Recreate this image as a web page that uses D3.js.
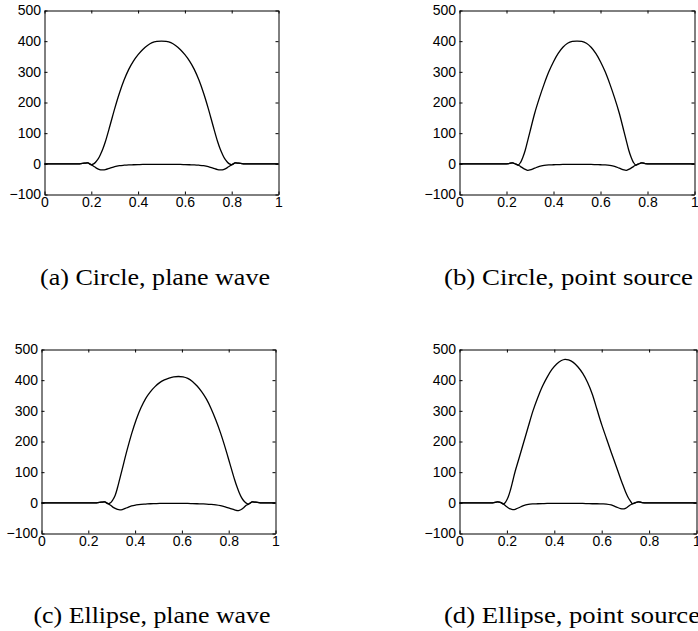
<!DOCTYPE html>
<html>
<head>
<meta charset="utf-8">
<script src="https://cdn.jsdelivr.net/npm/d3@7"></script>
<style>
  body { margin: 0; background: #fff; }
  svg { display: block; }
  .tick text { font-family: "Liberation Sans", Arial, sans-serif; font-size: 14px; fill: #000; }
  .axis path, .axis line { stroke: #000; stroke-width: 1; }
  .caption { font-family: "Liberation Serif", "Times New Roman", serif; font-size: 23px; fill: #000; }
</style>
</head>
<body>
<svg id="chart" width="698" height="631"></svg>
<script>
// ticks shared by all four plots
const xTicks = [0, 0.2, 0.4, 0.6, 0.8, 1];
const yTicks = [-100, 0, 100, 200, 300, 400, 500];

const captions = [
    "(a) Circle, plane wave",
    "(b) Circle, point source",
    "(c) Ellipse, plane wave",
    "(d) Ellipse, point source"
];

// (a) circle, plane wave
const xA = [0, 0.10, 0.15, 0.17, 0.185, 0.20, 0.21, 0.22, 0.23, 0.24, 0.25, 0.26, 0.28, 0.30, 0.32, 0.34, 0.36, 0.38, 0.40, 0.42, 0.44, 0.46, 0.48, 0.50,
            0.52, 0.54, 0.56, 0.58, 0.60, 0.62, 0.64, 0.66, 0.68, 0.70, 0.72, 0.74, 0.75, 0.76, 0.77, 0.78, 0.79, 0.80, 0.815, 0.83, 0.85, 0.90, 1];
const bigA = [0, 0, 0, 2, 3, -3, 0, 7, 17, 32, 50, 72, 125, 180, 230, 273, 308, 335, 356, 373, 386, 395, 399, 400,
              399, 395, 386, 373, 356, 335, 308, 273, 230, 180, 125, 72, 50, 32, 17, 7, 0, -3, 3, 2, 0, 0, 0];
const smallA = [0, 0, 0, 2, 3, -3, -8, -13, -17, -19.5, -20, -19, -14, -9, -6, -4.5, -3.5, -3, -2.5, -2, -2, -1.5, -1.5, -1.5,
                -1.5, -1.5, -2, -2, -2.5, -3, -3.5, -4.5, -6, -9, -14, -19, -20, -19.5, -17, -13, -8, -3, 3, 2, 0, 0, 0];

// (b) circle, point source
const xB = [0, 0.10, 0.18, 0.21, 0.225, 0.24, 0.25, 0.26, 0.27, 0.28, 0.29, 0.30, 0.32, 0.34, 0.36, 0.38, 0.40, 0.42, 0.44, 0.46, 0.48, 0.50,
            0.52, 0.54, 0.56, 0.58, 0.60, 0.62, 0.64, 0.66, 0.68, 0.70, 0.71, 0.72, 0.73, 0.74, 0.75, 0.76, 0.775, 0.79, 0.82, 0.90, 1];
const bigB = [0, 0, 0, 1, 3, -1, -4, 5, 22, 45, 75, 105, 165, 215, 260, 300, 333, 360, 380, 393, 399, 400,
              399, 393, 380, 360, 333, 300, 260, 215, 165, 105, 75, 45, 22, 5, -4, -1, 3, 1, 0, 0, 0];
const smallB = [0, 0, 0, 1, 3, -1, -4, -9, -14, -18, -21, -20, -14, -8, -5, -3.5, -3, -2.5, -2, -2, -1.5, -1.5,
                -1.5, -2, -2, -2.5, -3, -3.5, -5, -8, -14, -20, -21, -18, -14, -9, -4, -1, 3, 1, 0, 0, 0];

// (c) ellipse, plane wave
const xC = [0, 0.15, 0.235, 0.255, 0.27, 0.285, 0.295, 0.305, 0.315, 0.325, 0.335, 0.345, 0.365, 0.385, 0.405, 0.425, 0.445, 0.465, 0.485, 0.505, 0.525, 0.545, 0.565, 0.585,
            0.605, 0.625, 0.645, 0.665, 0.685, 0.705, 0.725, 0.745, 0.765, 0.785, 0.805, 0.825, 0.835, 0.845, 0.855, 0.865, 0.875, 0.885, 0.90, 0.915, 0.935, 0.97, 1];
const bigC = [0, 0, 0, 2, 3, -3, 0, 10, 25, 50, 80, 110, 170, 225, 272, 310, 340, 362, 379, 392, 401, 407, 411, 412,
              411, 406, 396, 381, 362, 338, 307, 270, 228, 180, 128, 76, 53, 33, 17, 6, -1, -4, 3, 2, 0, 0, 0];
const smallC = [0, 0, 0, 2, 3, -3, -8, -14, -18, -21.5, -23, -22, -16, -10, -7, -5, -4, -3, -2.5, -2, -2, -2, -2, -2,
                -2, -2, -2.5, -3, -3.5, -4, -5, -6.5, -9, -13, -18, -23, -25, -24.5, -21, -15, -8, -4, 3, 2, 0, 0, 0];

// (d) ellipse, point source
const xD = [0, 0.10, 0.14, 0.16, 0.175, 0.185, 0.195, 0.205, 0.215, 0.225, 0.235, 0.25, 0.27, 0.29, 0.31, 0.33, 0.35, 0.37, 0.39, 0.41, 0.43, 0.445,
            0.46, 0.48, 0.50, 0.52, 0.54, 0.56, 0.58, 0.60, 0.62, 0.64, 0.66, 0.68, 0.69, 0.70, 0.71, 0.72, 0.73, 0.74, 0.755, 0.77, 0.80, 1];
const bigD = [0, 0, 0, 3, 1, -4, 3, 18, 42, 72, 103, 142, 195, 248, 300, 343, 380, 410, 435, 453, 464, 468,
              466, 458, 443, 422, 393, 355, 305, 255, 210, 165, 122, 78, 57, 37, 20, 7, -3, 0, 3, 1, 0, 0];
const smallD = [0, 0, 0, 3, 1, -4, -10, -16, -20, -22, -21, -16, -9, -5, -3.5, -3, -2.5, -2, -2, -2, -2, -2,
                -2, -2, -2, -2, -2.5, -3, -3, -3.5, -4, -7, -13, -19, -20, -18, -13, -7, -3, 0, 3, 1, 0, 0];

// Где стоит каждый график на странице
const panels = [
    { xs: xA, series: [bigA, smallA], left: 44.5, right: 278.5, top: 10.5, bottom: 194.5, capX: 40, capY: 285, capW: 230 },
    { xs: xB, series: [bigB, smallB], left: 459.5, right: 694.5, top: 10.5, bottom: 194.5, capX: 444, capY: 285, capW: 249 },
    { xs: xC, series: [bigC, smallC], left: 41.5, right: 275.5, top: 349.5, bottom: 533.5, capX: 33.5, capY: 623, capW: 237 },
    { xs: xD, series: [bigD, smallD], left: 459.5, right: 696.5, top: 349.5, bottom: 533.5, capX: 444, capY: 623, capW: 256 }
];

let svg = d3.select('#chart');

panels.forEach((p, i) => {
    let x = d3.scaleLinear().domain([0, 1]).range([p.left, p.right]);
    let y = d3.scaleLinear().domain([-100, 500]).range([p.bottom, p.top]);

    let g = svg.append('g');

    // Кривые
    let line = d3.line()
        .x(d => x(d[0]))
        .y(d => y(d[1]))
        .curve(d3.curveCatmullRom.alpha(0.5));

    p.series.forEach(vals => {
        g.append('path')
            .datum(p.xs.map((v, k) => [v, vals[k]]))
            .attr('d', line)
            .attr('fill', 'none')
            .attr('stroke', '#000')
            .attr('stroke-width', 1.3);
    });

    // Оси, тики внутрь как в матлабе
    g.append('g').attr('class', 'axis')
        .attr('transform', `translate(0,${p.bottom})`)
        .call(d3.axisBottom(x).tickValues(xTicks).tickFormat(d3.format('~g'))
            .tickSizeInner(-3).tickSizeOuter(0).tickPadding(3));

    g.append('g').attr('class', 'axis')
        .attr('transform', `translate(${p.left},0)`)
        .call(d3.axisLeft(y).tickValues(yTicks)
            .tickSizeInner(-3).tickSizeOuter(0).tickPadding(3.5));

    g.append('g').attr('class', 'axis')
        .attr('transform', `translate(0,${p.top})`)
        .call(d3.axisTop(x).tickValues(xTicks).tickFormat(() => '')
            .tickSizeInner(-3).tickSizeOuter(0));

    g.append('g').attr('class', 'axis')
        .attr('transform', `translate(${p.right},0)`)
        .call(d3.axisRight(y).tickValues(yTicks).tickFormat(() => '')
            .tickSizeInner(-3).tickSizeOuter(0));

    g.selectAll('.axis').attr('font-family', null).attr('font-size', null);

    // Подпись
    svg.append('text')
        .attr('class', 'caption')
        .attr('x', p.capX)
        .attr('y', p.capY)
        .attr('textLength', p.capW)
        .attr('lengthAdjust', 'spacingAndGlyphs')
        .text(captions[i]);
});
</script>
</body>
</html>
